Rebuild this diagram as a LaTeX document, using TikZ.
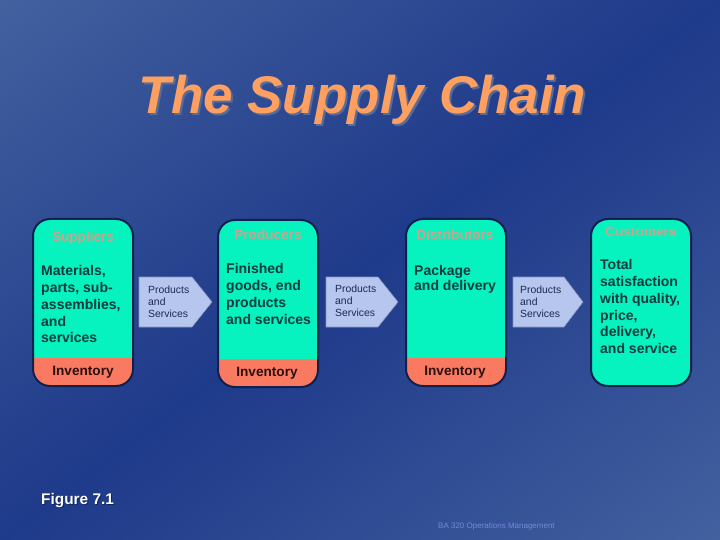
\documentclass[tikz,border=0pt]{standalone}
\usepackage{fontspec}
\setmainfont{Liberation Sans}
\definecolor{bgdark}{HTML}{1E3A8A}
\definecolor{bglight}{HTML}{43609F}
\definecolor{teal}{HTML}{06F2BE}
\definecolor{inv}{HTML}{F97A60}
\definecolor{edgecol}{HTML}{10214F}
\definecolor{headcol}{HTML}{D2A08C}
\definecolor{bodycol}{HTML}{0A3C40}
\definecolor{arrowcol}{HTML}{B6C6EE}
\definecolor{titlecol}{HTML}{FF9F60}
\definecolor{titleshade}{HTML}{5A6C98}
\definecolor{figshade}{HTML}{12245C}
\definecolor{footcol}{HTML}{7488D8}
\definecolor{flowink}{HTML}{1C2A50}
\definecolor{invink}{HTML}{2A1010}
\tikzset{
  x=1pt,y=-1pt,
  stagebox/.style={draw=edgecol,line width=2pt,fill=teal,rounded corners=17pt,inner sep=0pt,minimum width=100pt,minimum height=167pt},
  invbox/.style={stagebox,path picture={\fill[inv,sharp corners] ([yshift=28pt]path picture bounding box.south west) rectangle (path picture bounding box.south east);}},
  headtxt/.style={inner sep=0pt,text=headcol,font=\bfseries\fontsize{13.6}{16}\selectfont},
  bodytxt/.style={inner sep=0pt,anchor=north west,align=left,text=bodycol,font=\bfseries\fontsize{14}{16.9}\selectfont},
  invtxt/.style={inner sep=0pt,text=invink,font=\bfseries\fontsize{13.6}{16}\selectfont},
  flowshape/.style={fill=arrowcol,draw=arrowcol!70!edgecol,line width=.6pt},
  flowtxt/.style={inner sep=0pt,anchor=north west,align=left,text=flowink,font=\fontsize{10.4}{12}\selectfont},
}
\begin{document}
\begin{tikzpicture}
\useasboundingbox (0,0) rectangle (720,540);
\begin{scope}
\clip (0,0) rectangle (720,540);
\begin{scope}[transform canvas={shift={(360,270)},rotate=36.87}]
\shade[top color=bglight,bottom color=bglight,middle color=bgdark] (-500,-432) rectangle (500,432);
\end{scope}
\end{scope}
% title
\node[inner sep=0pt,anchor=base,text=titleshade,font=\bfseries\itshape\fontsize{53}{60}\selectfont] (titleshadow) at (364.5,115.5) {The Supply Chain};
\node[inner sep=0pt,anchor=base,text=titlecol,font=\bfseries\itshape\fontsize{53}{60}\selectfont] (title) at (362.5,113.5) {The Supply Chain};
% stage boxes
\node[invbox] (sup) at (83,302.5) {};
\node[invbox] (pro) at (268,303.5) {};
\node[invbox] (dis) at (456,302.5) {};
\node[stagebox] (cus) at (641,302.5) {};
% headings
\node[headtxt] (suph) at (83,238) {Suppliers};
\node[headtxt] (proh) at (268,235) {Producers};
\node[headtxt] (dish) at (455,235) {Distributors};
\node[headtxt] (cush) at (641,232) {Customers};
% body
\node[bodytxt] (supb) at (41,265) {Materials,\\parts, sub-\\assemblies,\\and\\services};
\node[bodytxt] (prob) at (226,263) {Finished\\goods, end\\products\\and services};
\node[bodytxt,font=\bfseries\fontsize{14}{15.5}\selectfont] (disb) at (414,265) {Package\\and delivery};
\node[bodytxt] (cusb) at (600,259) {Total\\satisfaction\\with quality,\\price,\\delivery,\\and service};
% inventory
\node[invtxt] (supi) at (83,372) {Inventory};
\node[invtxt] (proi) at (267,373) {Inventory};
\node[invtxt] (disi) at (455,372) {Inventory};
% flow arrows
\draw[flowshape] (139,277) -- (192,277) -- (212,302) -- (192,327) -- (139,327) -- cycle;
\draw[flowshape] (326,277) -- (378,277) -- (398,302) -- (378,327) -- (326,327) -- cycle;
\draw[flowshape] (513,277) -- (564,277) -- (583,302) -- (564,327) -- (513,327) -- cycle;
\node[flowtxt] (f1) at (148,285.5) {Products\\and\\Services};
\node[flowtxt] (f2) at (335,284.5) {Products\\and\\Services};
\node[flowtxt] (f3) at (520,285.5) {Products\\and\\Services};
% figure label
\node[inner sep=0pt,anchor=base west,text=figshade,font=\bfseries\fontsize{15.4}{18}\selectfont] (figshadow) at (42,505) {Figure 7.1};
\node[inner sep=0pt,anchor=base west,text=white,font=\bfseries\fontsize{15.4}{18}\selectfont] (fig) at (41,504) {Figure 7.1};
% footer
\node[inner sep=0pt,anchor=base west,text=footcol,font=\fontsize{8}{10}\selectfont] (foot) at (438,528) {BA 320 Operations Management};
\end{tikzpicture}
\end{document}
